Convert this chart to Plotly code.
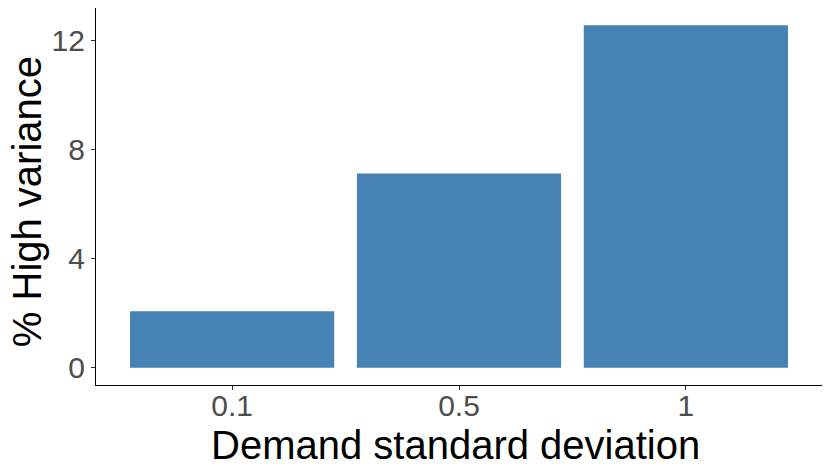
import plotly.graph_objects as go

categories = ["0.1", "0.5", "1"]
values = [2.08, 7.13, 12.58]
y_ticks = [0, 4, 8, 12]
y_tick_labels = ["0", "4", "8", "12"]

fig = go.Figure()
fig.add_trace(go.Bar(
    x=categories, y=values,
    marker=dict(color="#4682B4", line=dict(width=0)),
    width=0.9,
))

font_family = "Liberation Sans, Arial, sans-serif"
ymax = max(values)
fig.update_layout(
    width=830, height=475,
    margin=dict(l=96, r=8, t=8, b=90, autoexpand=False),
    plot_bgcolor="white", paper_bgcolor="white",
    showlegend=False,
    font=dict(family=font_family),
    bargap=0.1,
)
fig.update_xaxes(
    type="category", automargin=False,
    range=[-0.6, 2.6],
    showgrid=False, zeroline=False,
    showline=True, linecolor="black", linewidth=1.2,
    ticks="outside", ticklen=4, tickwidth=1.1, tickcolor="#333333",
    ticklabelstandoff=-10,
    tickfont=dict(size=30, color="#4D4D4D", family=font_family),
)
fig.update_yaxes(
    automargin=False,
    range=[-0.05 * ymax, 1.05 * ymax],
    tickvals=y_ticks, ticktext=y_tick_labels,
    showgrid=False, zeroline=False,
    showline=True, linecolor="black", linewidth=1.2,
    ticks="outside", ticklen=4, tickwidth=1.1, tickcolor="#333333",
    tickfont=dict(size=30, color="#4D4D4D", family=font_family),
)
fig.add_annotation(
    text="Demand standard deviation", xref="paper", yref="paper",
    x=0.495, y=-0.158, xanchor="center", yanchor="middle", showarrow=False,
    font=dict(size=40, color="black", family=font_family),
)
fig.add_annotation(
    text="% High variance", xref="paper", yref="paper",
    x=-0.095, y=0.485, xanchor="center", yanchor="middle", showarrow=False,
    textangle=-90,
    font=dict(size=40, color="black", family=font_family),
)
fig.write_html("out.html", config={"displayModeBar": False},
               post_script="document.body.style.margin='0';")
